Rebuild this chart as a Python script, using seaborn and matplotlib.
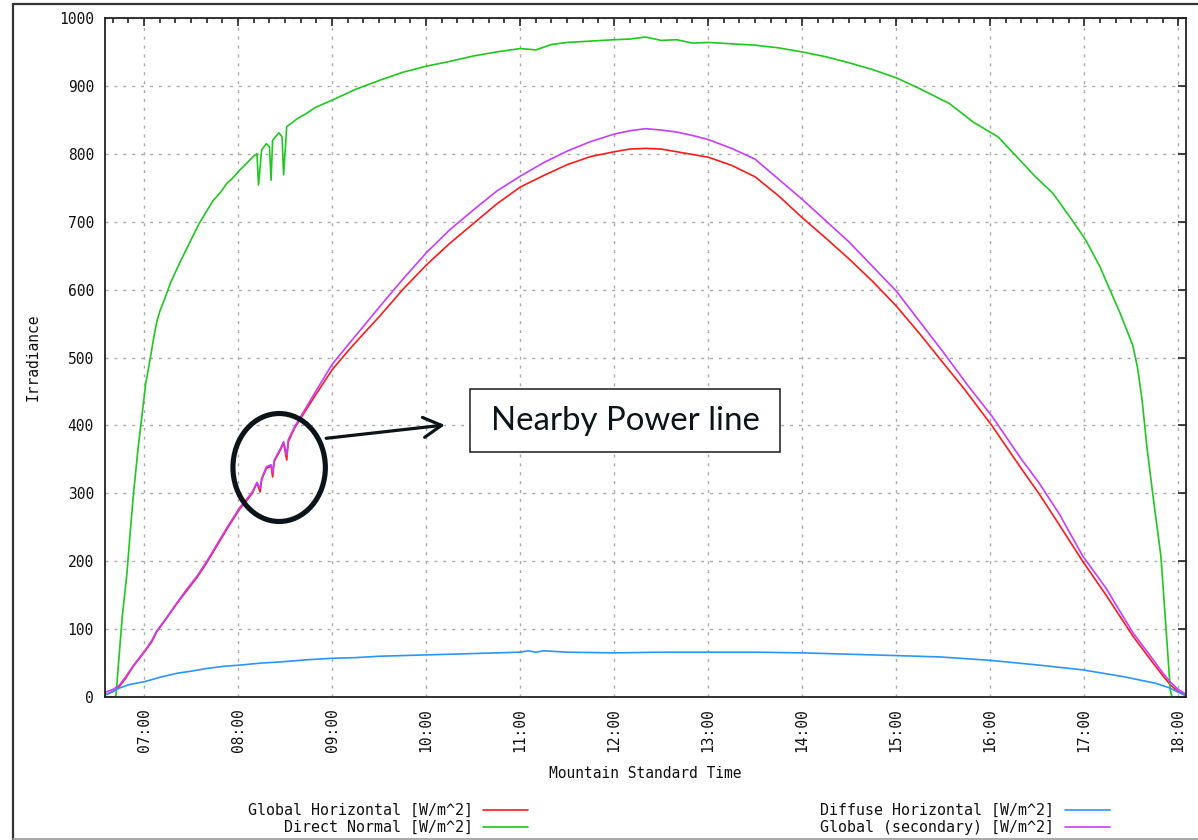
import numpy as np
import matplotlib
matplotlib.use("Agg")
import matplotlib.pyplot as plt
import seaborn as sns
from matplotlib.patches import Ellipse, Rectangle
from matplotlib.lines import Line2D
from matplotlib.ticker import MultipleLocator, FuncFormatter

# ---- measured irradiance, one day (Mountain Standard Time) ----
ghi_time = ["06:35", "06:40", "06:44", "06:48", "06:53", "06:57", "07:01", "07:05", "07:08",
            "07:14", "07:21", "07:27", "07:34", "07:40", "07:46", "07:53", "08:01", "08:05",
            "08:09", "08:12", "08:14", "08:15", "08:18", "08:21", "08:22", "08:23", "08:27",
            "08:29", "08:31", "08:32", "08:36", "08:42", "08:50", "09:00", "09:11", "09:20",
            "09:30", "09:45", "10:00", "10:15", "10:30", "10:45", "11:00", "11:15", "11:30",
            "11:45", "12:00", "12:10", "12:20", "12:30", "12:40", "12:50", "13:00", "13:15",
            "13:30", "13:45", "14:00", "14:15", "14:30", "14:45", "15:00", "15:15", "15:30",
            "15:43", "16:01", "16:20", "16:31", "16:44", "16:59", "17:14", "17:31", "17:44",
            "17:50", "17:55", "18:00", "18:05"]
ghi_val = [3, 8, 15, 27, 45, 57, 69, 82, 96,
           115, 138, 156, 177, 198, 221, 248, 277, 288,
           300, 315, 302, 320, 337, 340, 324, 347, 364,
           374, 349, 376, 396, 418, 447, 482, 512, 535,
           560, 600, 636, 668, 697, 726, 751, 768, 784,
           796, 803, 807, 808, 807, 803, 799, 795, 783,
           766, 738, 706, 676, 645, 612, 576, 535, 492,
           455, 400, 336, 300, 254, 200, 150, 90, 50,
           32, 18, 8, 2]

dni_time = ["06:35", "06:41", "06:42", "06:44", "06:46", "06:49", "06:51", "06:53", "06:56",
            "06:58", "07:01", "07:04", "07:06", "07:08", "07:10", "07:14", "07:17", "07:20",
            "07:23", "07:26", "07:29", "07:35", "07:40", "07:44", "07:49", "07:53", "07:56",
            "08:01", "08:05", "08:10", "08:12", "08:13", "08:15", "08:18", "08:20", "08:21",
            "08:22", "08:26", "08:28", "08:29", "08:31", "08:38", "08:44", "08:49", "09:00",
            "09:15", "09:30", "09:45", "10:00", "10:15", "10:30", "10:45", "11:00", "11:10",
            "11:20", "11:30", "11:45", "12:00", "12:10", "12:20", "12:30", "12:40", "12:50",
            "13:00", "13:15", "13:30", "13:45", "14:00", "14:15", "14:30", "14:45", "15:00",
            "15:15", "15:34", "15:49", "16:05", "16:16", "16:29", "16:40", "16:53", "17:01",
            "17:10", "17:16", "17:23", "17:31", "17:34", "17:37", "17:40", "17:44", "17:49",
            "17:52", "17:55", "17:56", "18:05"]
dni_val = [0, 0, 2, 60, 118, 182, 240, 295, 364,
           403, 462, 500, 528, 552, 568, 592, 611, 626,
           641, 655, 669, 697, 716, 731, 744, 757, 763,
           776, 785, 797, 800, 754, 806, 815, 810, 761,
           820, 831, 825, 769, 840, 852, 860, 868, 879,
           895, 908, 920, 929, 936, 944, 950, 955, 953,
           961, 964, 966, 968, 969, 972, 967, 968, 963,
           964, 962, 960, 956, 950, 943, 934, 924, 912,
           896, 874, 847, 825, 798, 766, 742, 700, 673,
           634, 602, 565, 518, 486, 437, 369, 295, 207,
           109, 10, 0, 0]

dhi_time = ["06:35", "06:40", "06:44", "06:50", "07:01", "07:10", "07:21", "07:30", "07:40",
            "07:50", "08:01", "08:15", "08:29", "08:45", "09:00", "09:15", "09:30", "09:45",
            "10:00", "10:15", "10:30", "10:45", "11:00", "11:05", "11:10", "11:15", "11:30",
            "12:00", "12:30", "13:00", "13:30", "14:00", "14:30", "15:00", "15:28", "16:00",
            "16:31", "16:59", "17:25", "17:46", "17:55", "18:00", "18:05"]
dhi_val = [3, 8, 13, 18, 23, 29, 35, 38, 42,
           45, 47, 50, 52, 55, 57, 58, 60, 61,
           62, 63, 64, 65, 66, 68, 66, 68, 66,
           65, 66, 66, 66, 65, 63, 61, 59, 54,
           47, 40, 30, 20, 13, 7, 2]

gsec_time = ["06:35", "06:40", "06:44", "06:48", "06:53", "06:57", "07:01", "07:05", "07:08",
             "07:14", "07:21", "07:27", "07:34", "07:40", "07:46", "07:53", "08:01", "08:05",
             "08:09", "08:12", "08:14", "08:15", "08:18", "08:21", "08:22", "08:23", "08:27",
             "08:29", "08:31", "08:32", "08:36", "08:42", "08:50", "09:00", "09:11", "09:20",
             "09:30", "09:45", "10:00", "10:15", "10:30", "10:45", "11:00", "11:15", "11:30",
             "11:45", "12:00", "12:10", "12:20", "12:30", "12:40", "12:50", "13:00", "13:15",
             "13:30", "14:00", "14:30", "15:00", "15:30", "15:47", "16:01", "16:20", "16:31",
             "16:44", "16:59", "17:14", "17:31", "17:44", "17:50", "17:55", "18:00", "18:05"]
gsec_val = [7, 11, 17, 29, 46, 58, 70, 84, 97,
            116, 139, 158, 179, 200, 223, 250, 279, 290,
            302, 316, 307, 322, 339, 342, 330, 349, 366,
            376, 356, 379, 398, 421, 452, 490, 521, 546,
            574, 615, 654, 688, 717, 745, 767, 787, 804,
            818, 829, 834, 837, 835, 832, 827, 821, 808,
            792, 733, 670, 598, 508, 455, 414, 350, 316,
            270, 208, 160, 95, 55, 36, 22, 11, 4]

series_labels = ["Global Horizontal [W/m^2]", "Direct Normal [W/m^2]",
                 "Diffuse Horizontal [W/m^2]", "Global (secondary) [W/m^2]"]
series_colors = ["#ff1a1a", "#1ec81e", "#2b95ff", "#c83cff"]


def to_hours(stamps):
    return np.array([int(s[:2]) + int(s[3:]) / 60.0 for s in stamps])


sns.set_style("white")
plt.rcParams["font.family"] = ["DejaVu Sans Mono"]
plt.rcParams["font.size"] = 10.5

W, H = 1198, 840
fig = plt.figure(figsize=(W / 100, H / 100), dpi=100)
ax = fig.add_axes([105 / W, 1 - 697 / H, (1186 - 105) / W, (697 - 18) / H])

series = [(ghi_time, ghi_val), (dni_time, dni_val), (dhi_time, dhi_val), (gsec_time, gsec_val)]
for (ts, vs), col in zip(series, series_colors):
    sns.lineplot(x=to_hours(ts), y=vs, color=col, linewidth=1.2, estimator=None, ax=ax)

ax.set_xlim(6 + 35 / 60, 18 + 5 / 60)
ax.set_ylim(0, 1000)
ax.xaxis.set_major_locator(MultipleLocator(1))
ax.xaxis.set_minor_locator(MultipleLocator(1 / 6))
ax.xaxis.set_major_formatter(FuncFormatter(lambda x, p: f"{int(round(x)):02d}:00"))
ax.yaxis.set_major_locator(MultipleLocator(100))
ax.yaxis.set_major_formatter(FuncFormatter(lambda y, p: f"{int(round(y))}"))

ax.grid(True, which="major", color="#ababab", linestyle=(0, (2.2, 4.2)), linewidth=1.0)
ax.set_axisbelow(True)
for sp in ax.spines.values():
    sp.set_visible(True)
    sp.set_color("#222222")
    sp.set_linewidth(1.3)

ax.tick_params(axis="both", which="both", direction="in", top=True, right=True,
               colors="#222222", labelcolor="#111111", width=1.2)
ax.tick_params(axis="both", which="major", length=6, pad=8)
ax.tick_params(axis="both", which="minor", length=3.5)
ax.tick_params(axis="x", which="major", labelrotation=90)

ax.set_xlabel("Mountain Standard Time", color="#111111")
ax.set_ylabel("Irradiance", color="#111111")
ax.xaxis.set_label_coords(0.5, -0.102)
ax.xaxis.label.set_va("top")
ax.yaxis.set_label_coords(-0.0666, 0.5)
ax.yaxis.label.set_va("center")

handles = [Line2D([], [], color=c, linewidth=1.2) for c in series_colors]
leg_kw = dict(loc="upper right", markerfirst=False, frameon=False, borderpad=0,
              borderaxespad=0, handlelength=3.0, handletextpad=0.7, labelspacing=0.12,
              fontsize=10.8, labelcolor="#111111")
fig.legend(handles[:2], series_labels[:2], bbox_to_anchor=(528 / W, 1 - 803 / H), **leg_kw)
fig.legend(handles[2:], series_labels[2:], bbox_to_anchor=(1110 / W, 1 - 803 / H), **leg_kw)

# callout around the disturbed segment
ax.add_patch(Ellipse((8.436, 338), width=0.983, height=159, fill=False,
                     edgecolor="#0b1419", linewidth=3.7, zorder=5, clip_on=False))
ax.annotate("", xy=(10.198, 400.6), xytext=(8.936, 381),
            arrowprops=dict(arrowstyle="->,head_length=1.3,head_width=0.72",
                            mutation_scale=10, lw=2.3, color="#0b1419",
                            shrinkA=0, shrinkB=0), zorder=5)
ax.add_patch(Rectangle((10.468, 360.8), 3.298, 92.8, facecolor="white",
                       edgecolor="#1a1a1a", linewidth=1.1, zorder=5))
ax.text(12.117, 407, "Nearby Power line", family="Lato", fontsize=23.8,
        ha="center", va="center", color="#0b1419", zorder=6)

# outer frame of the page
fig.add_artist(Line2D([13 / W, 1], [1 - 4 / H, 1 - 4 / H], transform=fig.transFigure,
                      color="#333333", linewidth=1.6))
fig.add_artist(Line2D([13 / W, 13 / W], [0, 1 - 4 / H], transform=fig.transFigure,
                      color="#333333", linewidth=1.6))
fig.add_artist(Line2D([13 / W, 1], [1 - 838.5 / H, 1 - 838.5 / H], transform=fig.transFigure,
                      color="#9a9a9a", linewidth=1.2))

fig.savefig("out.png", dpi=100)
